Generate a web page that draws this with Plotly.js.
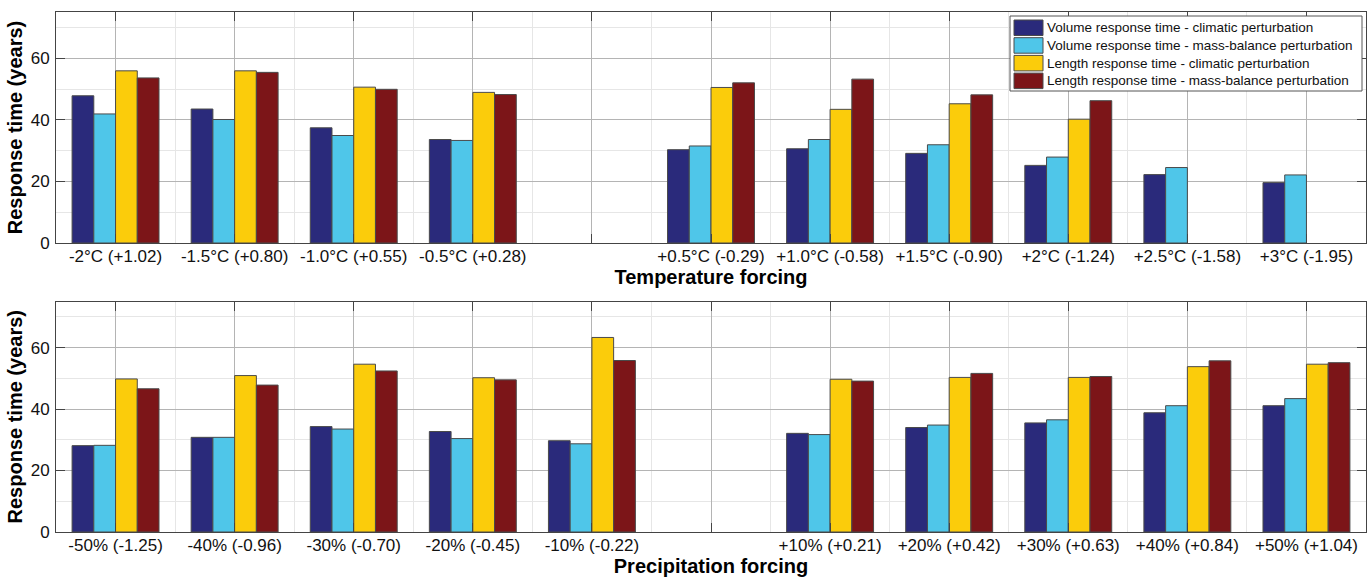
<!DOCTYPE html>
<html>
<head>
<meta charset="utf-8">
<script src="https://cdn.plot.ly/plotly-3.0.1.min.js"></script>
<style>
  html, body { margin: 0; padding: 0; background: #ffffff; }
  #chart { width: 1372px; height: 581px; }
</style>
</head>
<body>
<div id="chart"></div>
<script>
// Temperature forcing scenarios (mass-balance change in brackets); '' marks the empty slot
const tempLabels = ['-2°C (+1.02)', '-1.5°C (+0.80)', '-1.0°C (+0.55)', '-0.5°C (+0.28)', '',
  '+0.5°C (-0.29)', '+1.0°C (-0.58)', '+1.5°C (-0.90)', '+2°C (-1.24)', '+2.5°C (-1.58)', '+3°C (-1.95)'];
const tempVolClim  = [47.8, 43.5, 37.4, 33.6, null, 30.3, 30.6, 29.1, 25.2, 22.2, 19.6];
const tempVolMB    = [41.9, 40.1, 34.9, 33.3, null, 31.5, 33.6, 31.9, 27.9, 24.5, 22.1];
const tempLenClim  = [55.9, 55.9, 50.6, 48.9, null, 50.5, 43.4, 45.2, 40.2, null, null];
const tempLenMB    = [53.6, 55.4, 49.9, 48.2, null, 52.0, 53.2, 48.1, 46.2, null, null];

// Precipitation forcing scenarios
const precLabels = ['-50% (-1.25)', '-40% (-0.96)', '-30% (-0.70)', '-20% (-0.45)', '-10% (-0.22)', '',
  '+10% (+0.21)', '+20% (+0.42)', '+30% (+0.63)', '+40% (+0.84)', '+50% (+1.04)'];
const precVolClim  = [28.1, 30.8, 34.3, 32.7, 29.7, null, 32.1, 34.0, 35.5, 38.8, 41.1];
const precVolMB    = [28.2, 30.8, 33.5, 30.4, 28.7, null, 31.7, 34.8, 36.5, 41.1, 43.4];
const precLenClim  = [49.8, 50.9, 54.6, 50.2, 63.3, null, 49.7, 50.3, 50.3, 53.8, 54.6];
const precLenMB    = [46.6, 47.8, 52.4, 49.5, 55.8, null, 49.1, 51.6, 50.6, 55.7, 55.1];

const seriesNames = [
  'Volume response time - climatic perturbation',
  'Volume response time - mass-balance perturbation',
  'Length response time - climatic perturbation',
  'Length response time - mass-balance perturbation'
];
const seriesColors = ['#2a2a7b', '#4fc6e9', '#fbcc0b', '#7c1518'];

const W = 1372, H = 581;
const FONT = 'Liberation Sans, Arial, Helvetica, sans-serif';
const EDGE = '#4a4a4a';

function positions(labels) { return labels.map((_, i) => i + 1); }

function makeTraces(labels, seriesList, xa, ya) {
  const xs = positions(labels);
  return seriesList.map((vals, k) => ({
    type: 'bar',
    name: seriesNames[k],
    x: xs,
    y: vals,
    xaxis: xa,
    yaxis: ya,
    showlegend: false,
    marker: { color: seriesColors[k], line: { color: EDGE, width: 1 } },
    hoverinfo: 'y'
  }));
}

const traces = [].concat(
  makeTraces(tempLabels, [tempVolClim, tempVolMB, tempLenClim, tempLenMB], 'x', 'y'),
  makeTraces(precLabels, [precVolClim, precVolMB, precLenClim, precLenMB], 'x2', 'y2')
);

function xAxis(labels, title, anchor) {
  return {
    anchor: anchor,
    domain: [56 / W, 1366 / W],
    range: [0.5, labels.length + 0.5],
    tickmode: 'array',
    tickvals: positions(labels),
    ticktext: labels,
    ticks: 'inside',
    ticklen: 9,
    tickcolor: '#444',
    tickfont: { family: FONT, size: 17, color: '#111' },
    ticklabelstandoff: -2,
    showline: true,
    linecolor: '#444',
    linewidth: 1,
    mirror: 'ticks',
    showgrid: true,
    gridcolor: '#b4b4b4',
    gridwidth: 1,
    zeroline: false,
    minor: { tick0: 0.5, dtick: 1, showgrid: true, gridcolor: '#e6e6e6', gridwidth: 1, ticks: '' },
    title: { text: title, font: { family: FONT, size: 20, color: '#000', weight: 'bold' }, standoff: 3 },
    fixedrange: true
  };
}

function yAxis(domain, anchor) {
  return {
    anchor: anchor,
    domain: domain,
    range: [0, 75],
    tickmode: 'array',
    tickvals: [0, 20, 40, 60],
    ticks: 'inside',
    ticklen: 9,
    tickcolor: '#444',
    tickfont: { family: FONT, size: 17, color: '#111' },
    ticklabelstandoff: 2,
    showline: true,
    linecolor: '#444',
    linewidth: 1,
    mirror: 'ticks',
    showgrid: true,
    gridcolor: '#b4b4b4',
    gridwidth: 1,
    zeroline: false,
    minor: { tick0: 0, dtick: 10, showgrid: true, gridcolor: '#e6e6e6', gridwidth: 1, ticks: '' },
    title: { text: 'Response time (years)', font: { family: FONT, size: 20, color: '#000', weight: 'bold' }, standoff: 2 },
    fixedrange: true
  };
}

// Legend box in the top-right corner of the upper panel, laid out in pixels
const px = v => v / W;
const py = v => 1 - v / H;
const legendBox = { left: 1010, right: 1362, top: 16, bottom: 91 };
const rowTop = 20, rowStep = 17.7, swatchH = 15.5;

const shapes = [{
  type: 'rect', xref: 'paper', yref: 'paper', layer: 'above',
  x0: px(legendBox.left), x1: px(legendBox.right), y0: py(legendBox.bottom), y1: py(legendBox.top),
  fillcolor: '#ffffff', line: { color: '#555', width: 1 }
}];
const annotations = [];
seriesNames.forEach((name, k) => {
  const top = rowTop + k * rowStep;
  shapes.push({
    type: 'rect', xref: 'paper', yref: 'paper', layer: 'above',
    x0: px(1014), x1: px(1043), y0: py(top + swatchH), y1: py(top),
    fillcolor: seriesColors[k], line: { color: EDGE, width: 1 }
  });
  annotations.push({
    xref: 'paper', yref: 'paper', x: px(1045), y: py(top + swatchH / 2),
    xanchor: 'left', yanchor: 'middle', showarrow: false,
    text: name, font: { family: FONT, size: 13.5, color: '#111' }
  });
});

const layout = {
  width: W,
  height: H,
  margin: { l: 0, r: 0, t: 0, b: 0 },
  paper_bgcolor: '#ffffff',
  plot_bgcolor: '#ffffff',
  barmode: 'group',
  bargap: 0.27,
  bargroupgap: 0,
  font: { family: FONT, color: '#111' },
  xaxis: xAxis(tempLabels, 'Temperature forcing', 'y'),
  yaxis: yAxis([(H - 243) / H, (H - 12) / H], 'x'),
  xaxis2: xAxis(precLabels, 'Precipitation forcing', 'y2'),
  yaxis2: yAxis([(H - 532) / H, (H - 301.5) / H], 'x2'),
  shapes: shapes,
  annotations: annotations,
  showlegend: false
};

Plotly.newPlot('chart', traces, layout, { displayModeBar: false, staticPlot: true });
</script>
</body>
</html>
